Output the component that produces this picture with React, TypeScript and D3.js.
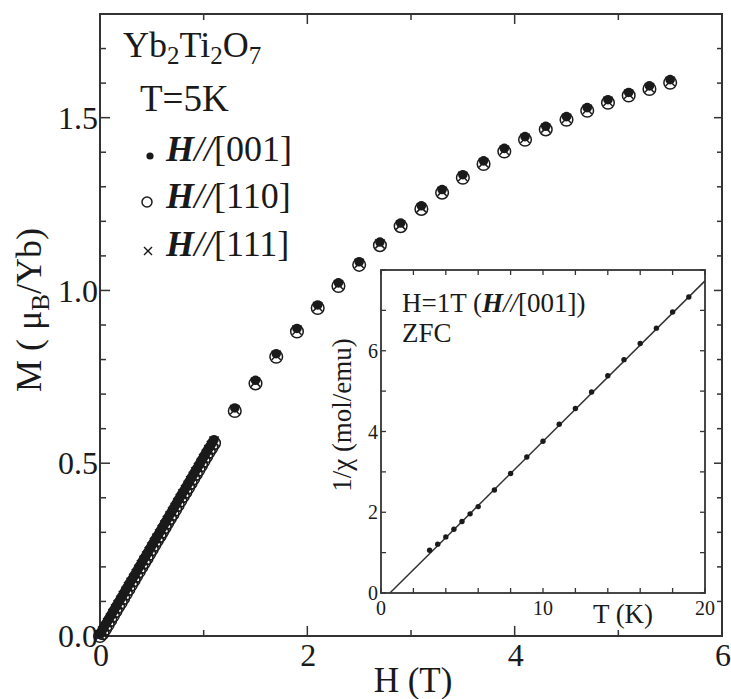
import React from "react";
import * as d3 from "d3";

// ---------- data ----------
const hLow = [0.000, 0.025, 0.050, 0.075, 0.100, 0.125, 0.150, 0.175, 0.200, 0.225, 0.250, 0.275, 0.300, 0.325, 0.350, 0.375, 0.400, 0.425, 0.450, 0.475, 0.500, 0.525, 0.550, 0.575, 0.600, 0.625, 0.650, 0.675, 0.700, 0.725, 0.750, 0.775, 0.800, 0.825, 0.850, 0.875, 0.900, 0.925, 0.950, 0.975, 1.000, 1.025, 1.050, 1.075, 1.100];
const m001Low = [0.005, 0.018, 0.031, 0.043, 0.056, 0.069, 0.082, 0.095, 0.107, 0.120, 0.133, 0.146, 0.159, 0.171, 0.184, 0.197, 0.210, 0.223, 0.235, 0.248, 0.261, 0.274, 0.287, 0.299, 0.312, 0.325, 0.338, 0.351, 0.363, 0.376, 0.389, 0.402, 0.415, 0.427, 0.440, 0.453, 0.466, 0.479, 0.491, 0.504, 0.517, 0.530, 0.543, 0.555, 0.568];
const m110Low = [0.000, 0.008, 0.021, 0.033, 0.046, 0.059, 0.072, 0.085, 0.097, 0.110, 0.123, 0.136, 0.149, 0.161, 0.174, 0.187, 0.200, 0.213, 0.225, 0.238, 0.251, 0.264, 0.277, 0.289, 0.302, 0.315, 0.328, 0.341, 0.353, 0.366, 0.379, 0.392, 0.405, 0.417, 0.430, 0.443, 0.456, 0.469, 0.481, 0.494, 0.507, 0.520, 0.533, 0.545, 0.558];
const m111Low = [0.002, 0.014, 0.027, 0.039, 0.052, 0.065, 0.078, 0.091, 0.103, 0.116, 0.129, 0.142, 0.155, 0.167, 0.180, 0.193, 0.206, 0.219, 0.231, 0.244, 0.257, 0.270, 0.283, 0.295, 0.308, 0.321, 0.334, 0.347, 0.359, 0.372, 0.385, 0.398, 0.411, 0.423, 0.436, 0.449, 0.462, 0.475, 0.487, 0.500, 0.513, 0.526, 0.539, 0.551, 0.564];

const hHigh = [1.3, 1.5, 1.7, 1.9, 2.1, 2.3, 2.5, 2.7, 2.9, 3.1, 3.3, 3.5, 3.7, 3.9, 4.1, 4.3, 4.5, 4.7, 4.9, 5.1, 5.3, 5.5];
const m001High = [0.660, 0.740, 0.817, 0.890, 0.958, 1.022, 1.083, 1.140, 1.195, 1.245, 1.292, 1.335, 1.375, 1.411, 1.445, 1.475, 1.503, 1.529, 1.552, 1.573, 1.592, 1.610];
const m110High = [0.651, 0.731, 0.808, 0.881, 0.949, 1.013, 1.074, 1.131, 1.186, 1.236, 1.283, 1.326, 1.366, 1.402, 1.436, 1.466, 1.494, 1.520, 1.543, 1.564, 1.583, 1.601];
const m111High = [0.655, 0.735, 0.812, 0.885, 0.953, 1.017, 1.078, 1.135, 1.190, 1.240, 1.287, 1.330, 1.370, 1.406, 1.440, 1.470, 1.498, 1.524, 1.547, 1.568, 1.587, 1.605];

const xTickLabels = ["0", "2", "4", "6"];
const yTickLabels = ["0.0", "0.5", "1.0", "1.5"];

// inset data
const tInset = [3, 3.5, 4, 4.5, 5, 5.5, 6, 7, 8, 9, 10, 11, 12, 13, 14, 15, 16, 17, 18, 19];
const invChi = [1.06, 1.21, 1.39, 1.58, 1.77, 1.96, 2.14, 2.55, 2.96, 3.37, 3.76, 4.18, 4.57, 4.98, 5.38, 5.78, 6.18, 6.56, 6.96, 7.33];
const fitT = [0.55, 20];
const fitY = [0, 7.73];
const insetXTickLabels = ["0", "10", "20"];
const insetYTickLabels = ["0", "2", "4", "6"];

// ---------- layout ----------
const W = 731, H = 699;
const FONT = "'Liberation Serif', 'Times New Roman', serif";
const INK = "#1a1a1a";

const x = d3.scaleLinear().domain([0, 6]).range([100, 722]);
const y = d3.scaleLinear().domain([0, 1.8]).range([636, 14]);

const ix = d3.scaleLinear().domain([0, 20]).range([381, 705]);
const iy = d3.scaleLinear().domain([0, 8]).range([593, 270]);

function zip(hs: number[], ms: number[]) {
  return hs.map((h, i) => [h, ms[i]] as [number, number]);
}

export default function App() {
  const s001 = zip(hLow.concat(hHigh), m001Low.concat(m001High));
  const s110 = zip(hLow.concat(hHigh), m110Low.concat(m110High));
  const s111 = zip(hLow.concat(hHigh), m111Low.concat(m111High));

  const yMinor = d3.range(0, 19).map((i) => i / 10);
  const xMinor = d3.range(0, 7);

  const [x0, x1] = x.range();
  const [y0, y1] = y.range();
  const [ix0, ix1] = ix.range();
  const [iy0, iy1] = iy.range();

  const fitLine = d3.line<number>()
    .x((_, i) => ix(fitT[i]))
    .y((_, i) => iy(fitY[i]));

  const cross = (cx: number, cy: number, s: number, sw: number, key: string) => (
    <g key={key} stroke={INK} strokeWidth={sw}>
      <line x1={cx - s} y1={cy - s} x2={cx + s} y2={cy + s} />
      <line x1={cx - s} y1={cy + s} x2={cx + s} y2={cy - s} />
    </g>
  );

  return (
    <svg width={W} height={H} style={{ position: "absolute", left: 0, top: 0, background: "#fff" }}
      fontFamily={FONT}>
      <rect x={0} y={0} width={W} height={H} fill="#fff" />

      {/* main frame ticks */}
      <g stroke="#333" strokeWidth={1.5}>
        {yMinor.map((v, i) => {
          const major = i % 5 === 0;
          const yy = y(v);
          return (
            <g key={"yt" + i}>
              <line x1={x0} x2={x0 + (major ? 10 : 6)} y1={yy} y2={yy} />
              <line x1={x1} x2={x1 - (major ? 8 : 5)} y1={yy} y2={yy} />
            </g>
          );
        })}
        {xMinor.map((v, i) => {
          const major = v % 2 === 0;
          const xx = x(v);
          return (
            <g key={"xt" + i}>
              <line x1={xx} x2={xx} y1={y0} y2={y0 - (major ? 10 : 6)} />
              <line x1={xx} x2={xx} y1={y1} y2={y1 + (major ? 10 : 6)} />
            </g>
          );
        })}
      </g>
      <rect x={x0} y={y1} width={x1 - x0} height={y0 - y1} fill="none" stroke="#333" strokeWidth={2} />

      {/* tick labels */}
      <g fontSize={32} fill={INK}>
        {yTickLabels.map((t, i) => (
          <text key={"yl" + i} x={98} y={y(+t)} dy="0.35em" textAnchor="end">{t}</text>
        ))}
        {xTickLabels.map((t, i) => (
          <text key={"xl" + i} x={x(+t) + 1} y={666} textAnchor="middle">{t}</text>
        ))}
      </g>

      {/* axis labels */}
      <text x={413} y={692} fontSize={35} textAnchor="middle" fill={INK}>H (T)</text>
      <text transform="translate(41,310) rotate(-90)" fontSize={36} textAnchor="middle" fill={INK}>
        M ( μ<tspan fontSize={25} dy={8}>B</tspan><tspan dy={-8}>/Yb)</tspan>
      </text>

      {/* data */}
      <g fill="none" stroke={INK} strokeWidth={1.5}>
        {s110.map(([h, m], i) => (
          <circle key={"c" + i} cx={x(h)} cy={y(m)} r={6.3} />
        ))}
      </g>
      {s111.map(([h, m], i) => cross(x(h), y(m), 4.6, 1.5, "x" + i))}
      <g fill={INK}>
        {s001.map(([h, m], i) => (
          <circle key={"d" + i} cx={x(h)} cy={y(m)} r={4.8} />
        ))}
      </g>

      {/* legend */}
      <text x={123} y={57} fontSize={36} fill={INK}>
        Yb<tspan fontSize={25} dy={7}>2</tspan><tspan dy={-7}>Ti</tspan><tspan fontSize={25} dy={7}>2</tspan><tspan dy={-7}>O</tspan><tspan fontSize={25} dy={7}>7</tspan>
      </text>
      <text x={140} y={111} fontSize={37} fill={INK}>T=5K</text>
      <circle cx={150} cy={156} r={3.6} fill={INK} />
      <circle cx={147} cy={202} r={5} fill="none" stroke={INK} strokeWidth={1.5} />
      {cross(148, 251, 4, 1.4, "legx")}
      {[["[001]", 161], ["[110]", 208], ["[111]", 256]].map(([lab, yy], i) => (
        <text key={"lg" + i} x={166} y={yy as number} fontSize={36} fill={INK}>
          <tspan fontWeight="bold" fontStyle="italic">H</tspan><tspan fontStyle="italic">//</tspan>{lab}
        </text>
      ))}

      {/* inset */}
      <rect x={ix0} y={iy1} width={ix1 - ix0} height={iy0 - iy1} fill="#fff" />
      <g stroke="#333" strokeWidth={1.3}>
        {d3.range(0, 21, 2).map((v) => (
          <g key={"ixt" + v}>
            <line x1={ix(v)} x2={ix(v)} y1={iy0} y2={iy0 - 5} />
            <line x1={ix(v)} x2={ix(v)} y1={iy1} y2={iy1 + 5} />
          </g>
        ))}
        {d3.range(0, 9).map((v) => (
          <g key={"iyt" + v}>
            <line x1={ix0} x2={ix0 + 5} y1={iy(v)} y2={iy(v)} />
            <line x1={ix1} x2={ix1 - 5} y1={iy(v)} y2={iy(v)} />
          </g>
        ))}
      </g>
      <rect x={ix0} y={iy1} width={ix1 - ix0} height={iy0 - iy1} fill="none" stroke="#333" strokeWidth={1.8} />
      <path d={fitLine(fitT) || ""} fill="none" stroke="#333" strokeWidth={1.5} />
      <g fill={INK}>
        {tInset.map((t, i) => (
          <circle key={"id" + i} cx={ix(t)} cy={iy(invChi[i])} r={2.7} />
        ))}
      </g>
      <g fontSize={20} fill={INK}>
        {insetXTickLabels.map((t) => (
          <text key={"ixl" + t} x={ix(+t)} y={615} textAnchor="middle">{t}</text>
        ))}
        {insetYTickLabels.map((t) => (
          <text key={"iyl" + t} x={378} y={iy(+t)} dy="0.35em" textAnchor="end">{t}</text>
        ))}
      </g>
      <text x={623} y={623} fontSize={27} textAnchor="middle" fill={INK}>T (K)</text>
      <text transform="translate(351,415) rotate(-90)" fontSize={27} textAnchor="middle" fill={INK}>1/χ (mol/emu)</text>
      <text x={402} y={312} fontSize={27} fill={INK}>
        H=1T (<tspan fontWeight="bold" fontStyle="italic">H</tspan><tspan fontStyle="italic">//</tspan>[001])
      </text>
      <text x={402} y={342} fontSize={27} fill={INK}>ZFC</text>
    </svg>
  );
}
